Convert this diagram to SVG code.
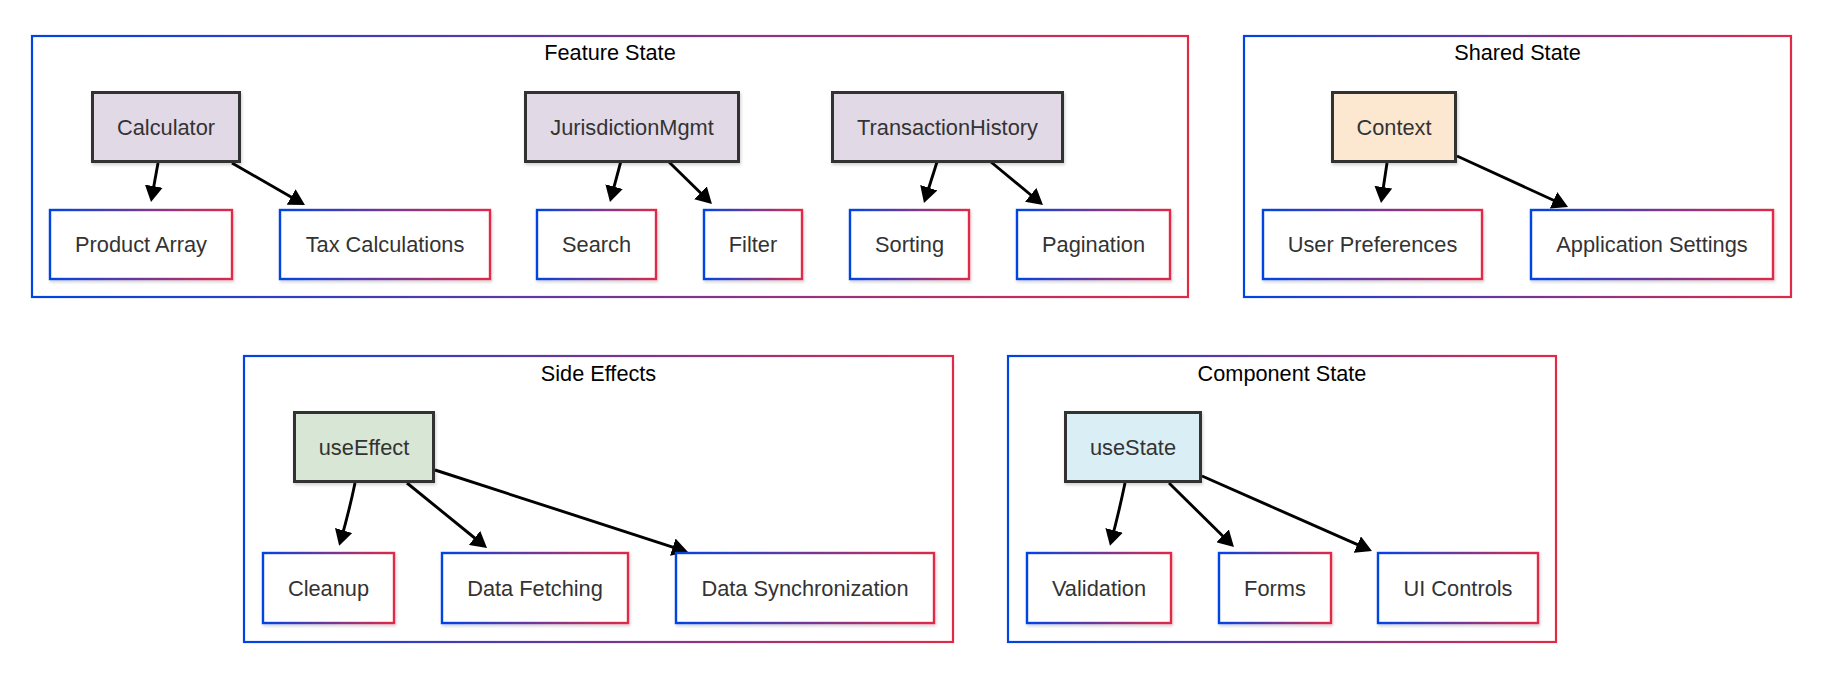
<svg xmlns="http://www.w3.org/2000/svg" width="1824" height="674" viewBox="0 0 1824 674">
<defs>
<linearGradient id="g" x1="0" y1="0" x2="1" y2="0">
<stop offset="0" stop-color="#0044e4"/>
<stop offset="1" stop-color="#e02a48"/>
</linearGradient>
<filter id="sh" x="-10%" y="-10%" width="125%" height="130%">
<feDropShadow dx="1" dy="2" stdDeviation="1.5" flood-color="#000" flood-opacity="0.18"/>
</filter>
<marker id="ah" viewBox="0 0 16 18" markerWidth="16" markerHeight="18" refX="12" refY="9" orient="auto" markerUnits="userSpaceOnUse">
<path d="M0,0 L16,9 L0,18 z" fill="#000"/>
</marker>
<style>
.cl{fill:#fff;stroke:url(#g);stroke-width:2.2}
.ct{font-family:"Liberation Sans",Arial,sans-serif;font-size:21.7px;fill:#000;text-anchor:middle}
.p{stroke:#333;stroke-width:3;filter:url(#sh)}
.l{fill:#fff;stroke:url(#g);stroke-width:2.4;filter:url(#sh)}
.t{font-family:"Liberation Sans",Arial,sans-serif;font-size:21.8px;fill:#333;text-anchor:middle}
.e{fill:none;stroke:#000;stroke-width:2.9;marker-end:url(#ah)}
</style>
</defs>
<rect width="1824" height="674" fill="#fff"/>

<g id="cluster-feature"><rect class="cl" x="32" y="36" width="1156" height="261"/><text class="ct" x="610" y="60">Feature State</text></g>
<g id="cluster-shared"><rect class="cl" x="1244" y="36" width="547" height="261"/><text class="ct" x="1517.5" y="60">Shared State</text></g>
<g id="cluster-side"><rect class="cl" x="244" y="356" width="709" height="286"/><text class="ct" x="598.5" y="381">Side Effects</text></g>
<g id="cluster-component"><rect class="cl" x="1008" y="356" width="548" height="286"/><text class="ct" x="1282" y="381">Component State</text></g>

<g id="connectors">
<path class="e" d="M158,163 L151.7,198"/>
<path class="e" d="M232,163 L301.5,203"/>
<path class="e" d="M620.7,162 L611,198.2"/>
<path class="e" d="M669,162 L709.1,201.2"/>
<path class="e" d="M937,162 L925.2,199.2"/>
<path class="e" d="M991,162 L1039.9,202.5"/>
<path class="e" d="M1387,163 L1381.6,199"/>
<path class="e" d="M1457,156 L1564.4,205.3"/>
<path class="e" d="M355,483 Q349,512 340.3,542"/>
<path class="e" d="M407,483 L483.9,545.5"/>
<path class="e" d="M435,470 L684.2,550.8"/>
<path class="e" d="M1125,483 Q1119,512 1111,542"/>
<path class="e" d="M1169,483 L1231.1,544.2"/>
<path class="e" d="M1202,476 L1368.3,549.4"/>
</g>

<g id="node-calculator"><rect class="p" fill="#e1d9e6" x="92.5" y="92.5" width="147" height="69"/><text class="t" x="166" y="135">Calculator</text></g>
<g id="node-jurisdiction"><rect class="p" fill="#e1d9e6" x="525.5" y="92.5" width="213" height="69"/><text class="t" x="632" y="135">JurisdictionMgmt</text></g>
<g id="node-transaction"><rect class="p" fill="#e1d9e6" x="832.5" y="92.5" width="230" height="69"/><text class="t" x="947.5" y="135">TransactionHistory</text></g>
<g id="node-context"><rect class="p" fill="#fce8d1" x="1332.5" y="92.5" width="123" height="69"/><text class="t" x="1394" y="135">Context</text></g>
<g id="node-useeffect"><rect class="p" fill="#d8e6d6" x="294.5" y="412.5" width="139" height="69"/><text class="t" x="364" y="455">useEffect</text></g>
<g id="node-usestate"><rect class="p" fill="#daeef6" x="1065.5" y="412.5" width="135" height="69"/><text class="t" x="1133" y="455">useState</text></g>

<g id="node-product"><rect class="l" x="50" y="210" width="182" height="69"/><text class="t" x="141" y="252.3">Product Array</text></g>
<g id="node-tax"><rect class="l" x="280" y="210" width="210" height="69"/><text class="t" x="385" y="252.3">Tax Calculations</text></g>
<g id="node-search"><rect class="l" x="537" y="210" width="119" height="69"/><text class="t" x="596.5" y="252.3">Search</text></g>
<g id="node-filter"><rect class="l" x="704" y="210" width="98" height="69"/><text class="t" x="753" y="252.3">Filter</text></g>
<g id="node-sorting"><rect class="l" x="850" y="210" width="119" height="69"/><text class="t" x="909.5" y="252.3">Sorting</text></g>
<g id="node-pagination"><rect class="l" x="1017" y="210" width="153" height="69"/><text class="t" x="1093.5" y="252.3">Pagination</text></g>
<g id="node-userprefs"><rect class="l" x="1263" y="210" width="219" height="69"/><text class="t" x="1372.5" y="252.3">User Preferences</text></g>
<g id="node-appsettings"><rect class="l" x="1531" y="210" width="242" height="69"/><text class="t" x="1652" y="252.3">Application Settings</text></g>
<g id="node-cleanup"><rect class="l" x="263" y="553" width="131" height="70"/><text class="t" x="328.5" y="596">Cleanup</text></g>
<g id="node-fetching"><rect class="l" x="442" y="553" width="186" height="70"/><text class="t" x="535" y="596">Data Fetching</text></g>
<g id="node-sync"><rect class="l" x="676" y="553" width="258" height="70"/><text class="t" x="805" y="596">Data Synchronization</text></g>
<g id="node-validation"><rect class="l" x="1027" y="553" width="144" height="70"/><text class="t" x="1099" y="596">Validation</text></g>
<g id="node-forms"><rect class="l" x="1219" y="553" width="112" height="70"/><text class="t" x="1275" y="596">Forms</text></g>
<g id="node-uicontrols"><rect class="l" x="1378" y="553" width="160" height="70"/><text class="t" x="1458" y="596">UI Controls</text></g>
</svg>
